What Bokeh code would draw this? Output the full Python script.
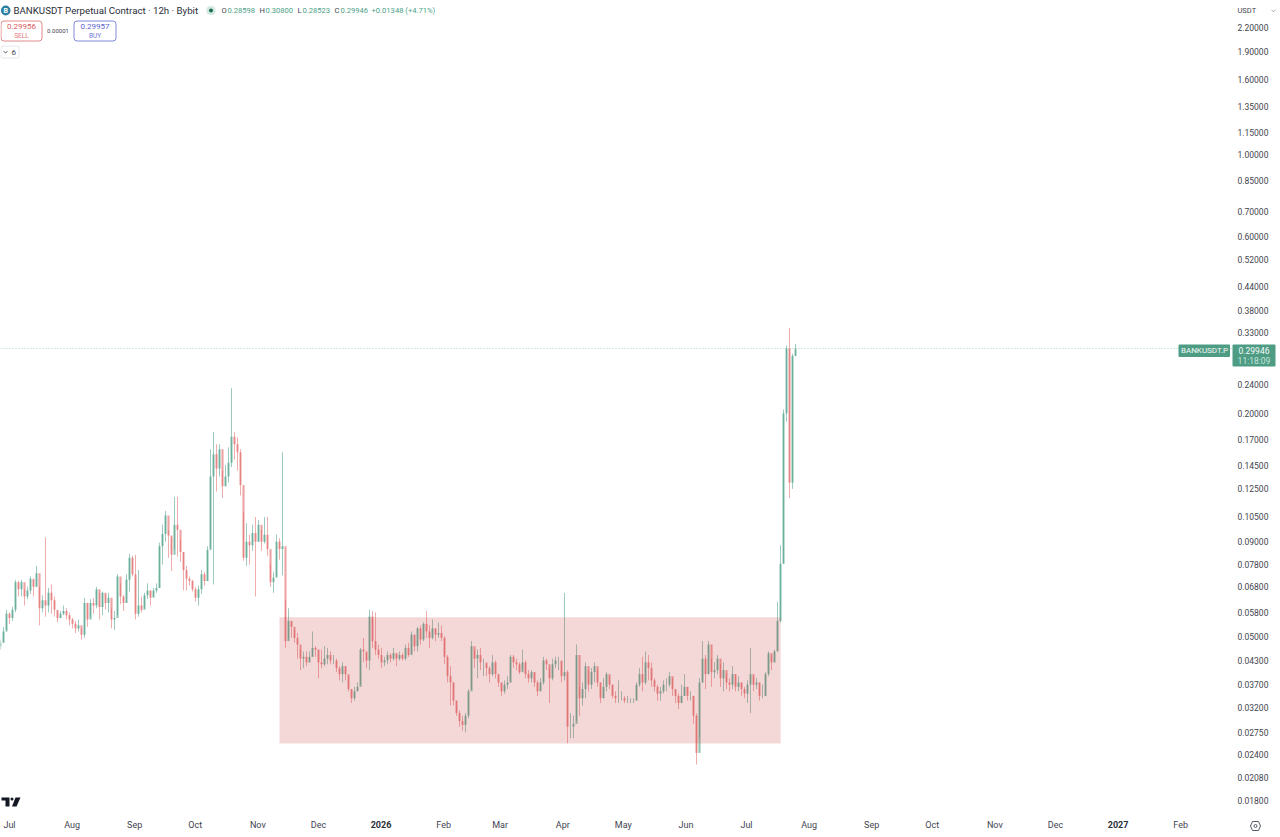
import numpy as np
import pandas as pd
from bokeh.embed import file_html
from bokeh.resources import INLINE
from bokeh.plotting import figure
from bokeh.models import (BoxAnnotation, ColumnDataSource, DatetimeAxis, FixedTicker, Label,
                          LogAxis, NumeralTickFormatter, PolyAnnotation, Range1d)

# ---- data (one candle per ~36h of chart width) ----
closes = [.048,.0515,.0575,.056,.059,.07,.067,.07,.064,.0665,.0715,.068,.074,.0595,.0625,.0605,.0655,.0625,.059,.056,
.0575,.0585,.057,.0555,.054,.0525,.0535,.0505,.0615,.0555,.0615,.0605,.067,.06,.0655,.0615,.0635,.0555,.056,.0725,
.064,.0615,.071,.0815,.0735,.0575,.0605,.059,.0645,.0665,.0635,.0665,.0675,.0875,.0945,.106,.0935,.083,.1,.097,
.0845,.0755,.0715,.0705,.067,.0635,.067,.0735,.0705,.0855,.135,.155,.142,.16,.127,.135,.147,.173,.165,.157,
.128,.0815,.09,.088,.095,.09,.1,.09,.094,.086,.07,.072,.09,.086,.0875,
.0485,.055,.053,.0495,.0475,.0435,.044,.0425,.044,.0465,.046,.0425,.042,.0435,.0445,.043,.043,.041,.0395,.0415,
.0395,.036,.034,.0355,.0365,.046,.0455,.043,.0565,.0485,.046,.0445,.0425,.043,.0445,.0435,.045,.0435,.0445,.0435,
.0465,.0445,.0505,.047,.0525,.049,.054,.0515,.0495,.0525,.0505,.051,.0495,.044,.039,.0375,.0335,.031,.0295,.0288,
.0305,.0355,.047,.0435,.0445,.0425,.0425,.041,.0395,.0425,.0395,.0375,.0355,.037,.0375,.044,.0425,.042,.04,.0425,
.0395,.0385,.04,.0375,.0355,.0375,.043,.042,.0385,.042,.043,.043,.039,.04,.0285,.0285,.029,.0445,.034,.036,
.0415,.037,.04,.0415,.0375,.034,.0365,.0395,.037,.0345,.034,.034,.034,.0335,.0335,.0335,.0335,.037,.0395,.0375,
.0425,.041,.038,.0365,.035,.0355,.037,.037,.039,.036,.0345,.033,.0345,.0365,.0345,.0345,.0305,.0242,.0375,.0435,
.0395,.0475,.04,.0405,.0435,.0385,.0405,.0375,.037,.0395,.0365,.0375,.036,.035,.037,.0395,.037,.0375,.0345,.0345,
.0395,.045,.0425,.0455,.055,.0785,.2,.3,.13,.28598,.29946]
highs = [.049,.053,.059,.058,.06,.071,.0705,.071,.067,.068,.0725,.071,.0775,.068,.0645,.0925,.0675,.069,.064,.0585,
.0585,.0605,.0595,.058,.056,.055,.0555,.0525,.0635,.0615,.063,.0635,.068,.0655,.066,.065,.0655,.0595,.0585,.0735,
.0695,.0645,.0735,.0835,.0825,.083,.0755,.064,.0655,.0695,.0665,.0675,.0695,.0895,.1,.109,.0965,.0925,.119,.119,
.091,.0845,.0775,.0725,.071,.068,.0685,.0755,.0745,.0875,.16,.178,.165,.165,.14,.145,.162,.234,.178,.172,
.16,.108,.101,.094,.1,.105,.103,.097,.105,.105,.078,.0745,.094,.092,.157,
.0625,.0595,.055,.052,.051,.046,.0455,.0455,.0455,.0515,.047,.046,.046,.047,.0465,.0455,.0445,.0435,.0415,.0425,
.0415,.039,.036,.0365,.0375,.0465,.0495,.045,.059,.0585,.058,.0475,.0465,.044,.0455,.045,.0465,.045,.0455,.045,
.0475,.048,.0515,.0505,.053,.0535,.0545,.0585,.0535,.0555,.0525,.0545,.0535,.05,.0445,.0415,.0375,.0335,.0315,.0305,
.031,.036,.0485,.046,.046,.0465,.0435,.042,.0415,.0445,.043,.0395,.0375,.038,.039,.0445,.0445,.0435,.0425,.046,
.043,.0405,.0405,.04,.038,.0385,.044,.0435,.041,.0435,.044,.044,.0425,.0655,.0405,.031,.0305,.0475,.0365,.0375,
.0425,.0405,.041,.0425,.0405,.0375,.0385,.04,.039,.037,.0355,.038,.0355,.0345,.0345,.034,.034,.0375,.041,.044,
.0455,.0445,.0425,.0385,.037,.0365,.038,.0385,.04,.0385,.036,.035,.037,.0395,.0365,.0355,.0345,.031,.0385,.0485,
.0445,.0485,.0435,.0425,.0445,.042,.0425,.0395,.0385,.0415,.0395,.039,.0375,.0365,.038,.0465,.039,.0385,.0375,.037,
.04,.0455,.0445,.046,.062,.088,.205,.305,.34,.29,.308]
lows = [.046,.048,.052,.054,.055,.058,.064,.064,.0605,.063,.065,.064,.068,.0535,.058,.0565,.058,.0575,.0565,.0545,
.056,.057,.0555,.0535,.0525,.051,.0515,.049,.0495,.053,.0565,.0575,.0595,.0555,.057,.059,.058,.0525,.052,.057,
.061,.0585,.0615,.066,.0725,.0555,.0565,.058,.0595,.063,.0605,.064,.0655,.0675,.078,.09,.0815,.075,.086,.082,
.0795,.0665,.0665,.0685,.066,.062,.0605,.065,.0685,.0705,.0865,.069,.123,.135,.118,.127,.13,.143,.15,.14,
.12,.08,.0775,.078,.085,.064,.09,.085,.089,.0825,.068,.0655,.0725,.0805,.073,
.0465,.049,.0495,.048,.0435,.0405,.041,.0415,.0425,.044,.044,.0385,.041,.0415,.042,.042,.042,.04,.038,.0375,
.038,.0355,.033,.0335,.0355,.037,.0425,.041,.0405,.0465,.0445,.0435,.041,.0415,.042,.0425,.043,.0415,.043,.043,
.043,.044,.045,.0455,.0455,.0475,.0485,.0495,.0465,.049,.0485,.0495,.0485,.042,.0375,.0325,.0325,.0305,.0285,.0278,
.0275,.03,.036,.041,.0385,.0405,.039,.039,.0375,.039,.0385,.0365,.0345,.035,.036,.0375,.041,.0405,.0395,.0405,
.0385,.0375,.0375,.0365,.0345,.0355,.037,.0405,.033,.038,.041,.0405,.0375,.038,.0257,.0265,.0265,.0295,.0305,.0325,
.034,.0355,.036,.0375,.0365,.033,.034,.0355,.036,.034,.033,.033,.0335,.033,.033,.033,.033,.0335,.0365,.0355,.037,
.038,.0365,.0355,.0335,.0335,.035,.0355,.0365,.0345,.033,.0318,.033,.0345,.0335,.0335,.029,.0225,.0265,.0375,.036,
.0395,.0365,.0385,.0395,.0365,.0355,.036,.0355,.036,.0355,.0355,.0345,.034,.033,.031,.0355,.036,.0335,.034,.0345,
.039,.0405,.0425,.0455,.0545,.0785,.19,.118,.125,.28523]
first_open = .047
first_day, last_day = "2025-06-26 13:00", "2026-07-25 06:30"

zone_left, zone_right = "2025-11-11 17:00", "2026-07-17 22:00"
zone_top, zone_bottom = 0.0563, 0.02565
last_price = 0.29946
price_line_end = "2027-02-28"

price_ticks = [2.2,1.9,1.6,1.35,1.15,1.0,.85,.7,.6,.52,.44,.38,.33,.24,.2,.17,.145,.125,.105,.09,.078,.068,.058,.05,
               .043,.037,.032,.0275,.024,.0208,.018]
month_ticks = {"2025-07-01":"Jul","2025-08-01":"Aug","2025-09-01":"Sep","2025-10-01":"Oct","2025-11-01":"Nov",
               "2025-12-01":"Dec","2026-02-01":"Feb","2026-03-01":"Mar","2026-04-01":"Apr","2026-05-01":"May",
               "2026-06-01":"Jun","2026-07-01":"Jul","2026-08-01":"Aug","2026-09-01":"Sep","2026-10-01":"Oct",
               "2026-11-01":"Nov","2026-12-01":"Dec","2027-02-01":"Feb"}
year_ticks = {"2026-01-01":"2026","2027-01-01":"2027"}

# ---- styling ----
W, H = 1280, 837
AX_X, AX_Y = 1226, 813      # where the price and time axes sit
UP, DN = "#4c9f88", "#e4696b"
FONT = "Roboto"
TXT = "#3f444f"
PX_DAY, PX_DEC = 2.0192, 370.2

n = len(closes)
assert len(highs) == n and len(lows) == n
dates = pd.date_range(first_day, last_day, periods=n)
opens = [first_open] + closes[:-1]
cols = [UP if c >= o else DN for c, o in zip(closes, opens)]
src = ColumnDataSource(dict(x=dates, o=opens, c=closes, h=highs, l=lows, color=cols))

ms = lambda s: pd.Timestamp(s).value / 1e6
px2ms = lambda x: ms("2025-07-01") + (x - 9) / PX_DAY * 864e5
py2val = lambda y: 0.018 * 10 ** ((800 - y) / PX_DEC)

p = figure(frame_width=W, frame_height=H, output_backend="svg", toolbar_location=None,
           x_axis_type=None, y_axis_type="log", y_axis_location=None,
           x_range=Range1d(px2ms(0), px2ms(W)), y_range=Range1d(py2val(H), py2val(0)),
           min_border_left=0, min_border_top=0, min_border_right=0, min_border_bottom=0,
           background_fill_color="white", border_fill_color="white")
p.outline_line_color = None
p.grid.visible = False

p.segment("x", "h", "x", "l", source=src, color="color", line_width=1, line_alpha=0.55)
p.vbar("x", top="o", bottom="c", width=1.05 * 864e5, source=src, fill_color="color", line_color=None,
       fill_alpha=0.62)
p.quad(left=[pd.Timestamp(zone_left)], right=[pd.Timestamp(zone_right)], top=[zone_top], bottom=[zone_bottom],
       fill_color="#c83a3a", fill_alpha=0.2, line_color=None)
p.segment(x0=[pd.Timestamp(first_day)], x1=[pd.Timestamp(price_line_end)], y0=[last_price], y1=[last_price],
          line_color="#a6d3c5", line_dash="1 2", line_width=1)

ax = DatetimeAxis(ticker=FixedTicker(ticks=[ms(k) for k in list(month_ticks) + list(year_ticks)]),
                  major_label_overrides={**{ms(k): v for k, v in month_ticks.items()},
                                         **{ms(k): " " for k in year_ticks}},
                  fixed_location=py2val(AX_Y))
ax.axis_line_color = None
ax.major_tick_line_color = None
ax.minor_tick_line_color = None
ax.major_label_text_font = FONT
ax.major_label_text_font_size = "9px"
ax.major_label_text_color = TXT
ax.major_label_standoff = 0
p.add_layout(ax, "below")

ay = LogAxis(ticker=FixedTicker(ticks=price_ticks), formatter=NumeralTickFormatter(format="0.00000"),
             fixed_location=px2ms(AX_X))
ay.axis_line_color = None
ay.major_tick_line_color = None
ay.minor_tick_line_color = None
ay.major_label_text_font = FONT
ay.major_label_text_font_size = "8.5px"
ay.major_label_text_color = TXT
ay.major_label_standoff = 5
p.add_layout(ay, "right")

# ---- chrome in reference pixel coordinates ----
def label(x, y, s, color=TXT, size=8.5, align="left", style="normal", font=FONT):
    p.add_layout(Label(x=x, y=H - y, x_units="screen", y_units="screen", text=s, text_color=color,
                       text_font=font, text_font_size=f"{size}px", text_align=align, text_baseline="middle",
                       text_font_style=style))

def box(x0, x1, y0, y1, fill=None, line=None, radius=0):
    p.add_layout(BoxAnnotation(left=x0, right=x1, top=H - y0, bottom=H - y1, left_units="screen",
                               right_units="screen", top_units="screen", bottom_units="screen",
                               fill_color=fill, fill_alpha=1 if fill else 0, line_color=line, line_alpha=1 if line else 0,
                               line_width=1, border_radius=radius, editable=False))

def poly(xs, ys, fill=None, line=None, width=1):
    p.add_layout(PolyAnnotation(xs=list(xs), ys=[H - y for y in ys], xs_units="screen", ys_units="screen",
                                fill_color=fill, fill_alpha=1 if fill else 0, line_color=line,
                                line_alpha=1 if line else 0, line_width=width))

for k, v in year_ticks.items():
    xp = 9 + (ms(k) - ms("2025-07-01")) / 864e5 * PX_DAY
    label(xp, 824, v, color="#2a2e39", size=9, align="center", style="bold")

# header
box(0.5, 10, 5, 15, fill="#2b7fa3", radius=5)
label(5.2, 10, "B", color="white", size=7, align="center", style="bold")
label(13, 10, "BANKUSDT Perpetual Contract · 12h · Bybit", color="#2a2e39", size=9.7)
box(206, 215, 5.5, 14.5, fill="#d4e9e2", radius=4)
box(208.5, 212.5, 8, 12, fill="#1d6e57", radius=2)
ox = [221, 227, 259, 265, 297, 302, 334, 340, 371]
for x, s, c in zip(ox, ["O", "0.28598", "H", "0.30800", "L", "0.28523", "C", "0.29946", "+0.01348 (+4.71%)"],
                   [TXT, UP, TXT, UP, TXT, UP, TXT, UP, UP]):
    label(x, 10, s, color=c, size=7.6)

box(0.5, 41.5, 20.5, 40.5, line="#e28a8c", radius=3)
label(21, 26, "0.29956", color="#d9595c", size=8, align="center")
label(21, 35, "SELL", color="#e4797b", size=6.5, align="center")
label(57.5, 30, "0.00001", color=TXT, size=6, align="center")
box(73.5, 115.5, 20.5, 40.5, line="#8089d8", radius=3)
label(94.5, 26, "0.29957", color="#5a64cc", size=8, align="center")
label(94.5, 35, "BUY", color="#7079d4", size=6.5, align="center")
box(0.5, 18.5, 45.5, 57.5, line="#e6e8ee", radius=2)
poly([3, 5, 7, 7, 5, 3], [50, 52, 50, 51, 53, 51], fill="#555a66")
label(11, 51.5, "6", color=TXT, size=8)

# price pane
label(1237, 10, "USDT", color=TXT, size=7.5)
poly([1271, 1273, 1275, 1275, 1273, 1271], [9, 11, 9, 9.5, 11.5, 9.5], fill="#555a66")
box(1178, 1229.5, 344, 356.5, fill="#4f9c85", radius=1)
label(1204, 350, "BANKUSDT.P", color="#f2fbf8", size=8, align="center")
box(1232, 1275, 344, 366, fill="#4f9c85", radius=1)
label(1253.5, 350, "0.29946", color="#f5fbf9", size=8.5, align="center")
label(1253.5, 360, "11:18:09", color="#c3e4da", size=8.5, align="center")

# logo and gear
poly([1, 9, 9, 5, 5, 1], [797, 797, 806, 806, 800, 800], fill="#131722")
box(10, 13, 797, 800, fill="#131722", radius=2)
poly([15, 20, 16, 11.5], [797, 797, 806, 806], fill="#131722")
poly([1252, 1258, 1260, 1258, 1252, 1250], [821, 821, 825.5, 830, 830, 825.5], line="#555a66")
box(1253.5, 1256.5, 824, 827, line="#555a66", radius=2)

open("out.html", "w").write(file_html(p, INLINE))
